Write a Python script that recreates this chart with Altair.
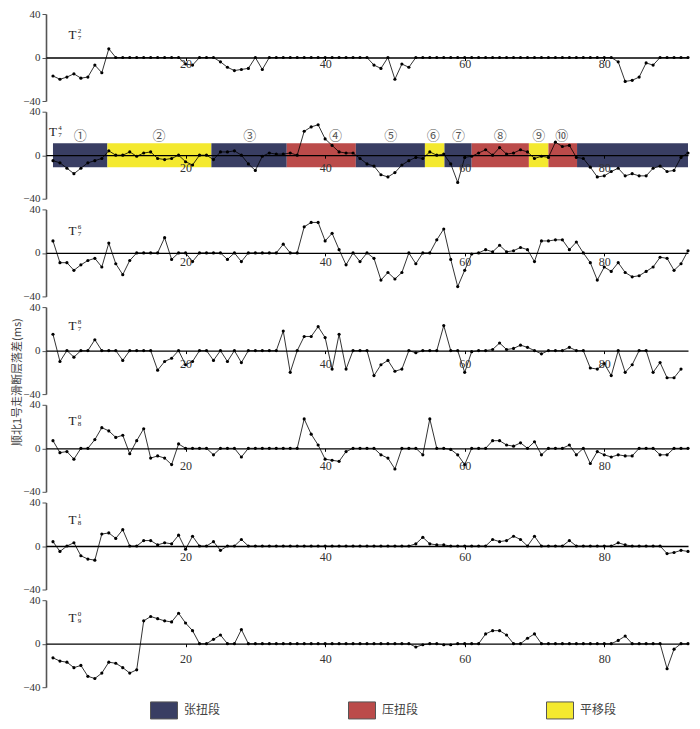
import altair as alt
import pandas as pd

# ---------------- data ----------------
p1 = [-17, -20, -18, -15, -19, -18, -7, -14, 8, 0,
      0, 0, 0, 0, 0, 0, 0, 0, 0, -6,
      -7, 0, 0, 0, -4, -9, -12, -11, -10, 0,
      -11, 0, 0, 0, 0, 0, 0, 0, 0, 0,
      0, 0, 0, 0, 0, 0, -7, -10, 0, -20,
      -6, -9, 0, 0, 0, 0, 0, 0, 0, 0,
      0, 0, 0, 0, 0, 0, 0, 0, 0, 0,
      0, 0, 0, 0, 0, 0, 0, 0, 0, 0,
      0, -4, -22, -21, -18, -5, -7, 0, 0, 0,
      0, 0]
p2 = [-5, -7, -12, -17, -12, -7, -5, -3, 4, 0,
      0, 3, -1, 2, 3, -3, -4, -3, 0, -6,
      -9, 0, 0, -4, 3, 3, 4, 0, -8, -14,
      -1, 2, 1, 1, 2, 0, 22, 26, 28, 15,
      9, 3, 2, 2, -3, -8, -10, -18, -20, -16,
      -9, -5, -2, -3, 3, 0, 1, -8, -25, -2,
      -1, 2, 5, 0, 7, 1, 2, 5, 3, -3,
      -1, -2, 12, 8, 9, -2, -3, -11, -20, -19,
      -15, -12, -19, -17, -19, -19, -12, -10, -15, -14,
      -2, 2]
p3 = [11, -9, -9, -16, -11, -7, -5, -13, 9, -10,
      -20, -7, 0, 0, 0, 0, 14, -6, 0, 0,
      -8, 0, 0, 0, 0, -6, 0, -8, 0, 0,
      0, 0, 0, 8, 0, 0, 24, 28, 28, 11,
      18, 3, -11, 0, -8, 0, -5, -25, -18, -24,
      -18, 0, -10, 0, 0, 12, 22, -6, -31, -16,
      -1, 0, 3, 1, 7, 1, 2, 5, 3, -8,
      11, 11, 12, 12, 3, 10, 0, -9, -25, -13,
      -17, -9, -18, -22, -21, -17, -13, -4, -5, -16,
      -10, 2]
p4 = [15, -10, 0, -6, 0, 0, 10, 0, 0, 0,
      -9, 0, 0, 0, 0, -18, -10, -7, 0, -13,
      -10, 0, 0, -9, 0, -10, 0, -11, 0, 0,
      0, 0, 0, 18, -20, 0, 13, 13, 22, 12,
      -17, 15, -17, 0, 0, 0, -23, -13, -9, -19,
      -17, 0, -2, 0, 0, 0, 23, 0, 0, -20,
      -1, 0, 0, 1, 7, 1, 2, 5, 3, 0,
      -3, 0, 0, 0, 3, 0, 0, -16, -17, -12,
      -23, 0, -20, -13, 0, 0, -20, -11, -25, -25,
      -17]
p5 = [7, -4, -3, -10, 0, 0, 8, 19, 16, 10,
      12, -5, 7, 18, -9, -7, -9, -15, 4, 0,
      0, 0, 0, -6, 0, 0, 0, -8, 0, 0,
      0, 0, 0, 0, 0, 0, 27, 13, 3, -10,
      -11, -12, -3, 0, 0, 0, 0, -6, -9, -19,
      0, 0, 0, -6, 27, 0, 0, -1, -6, -15,
      0, 0, 0, 7, 7, 3, 2, 5, 0, 6,
      -6, 0, 0, 0, 3, -6, 0, -14, -3, -6,
      -8, -6, -7, -7, 0, 0, 0, -6, -6, 0,
      0, 0]
p6 = [4, -5, 0, 3, -9, -12, -13, 11, 12, 7,
      15, 0, 0, 5, 5, 1, 3, 2, 10, -3,
      9, 0, 0, 4, -4, 0, 0, 6, 0, 0,
      0, 0, 0, 0, 0, 0, 0, 0, 0, 0,
      0, 0, 0, 0, 0, 0, 0, 0, 0, 0,
      0, 0, 2, 8, 2, 1, 1, 0, 0, 0,
      0, 0, 0, 6, 4, 5, 9, 6, 0, 9,
      0, 0, 0, 0, 5, 0, 0, 0, 0, 0,
      0, 3, 1, 0, 0, 0, 0, 0, -7, -6,
      -4, -5]
p7 = [-13, -16, -17, -22, -20, -30, -32, -27, -17, -18,
      -22, -27, -24, 21, 25, 23, 21, 20, 28, 19,
      12, 0, 0, 4, 8, 0, 0, 13, 0, 0,
      0, 0, 0, 0, 0, 0, 0, 0, 0, 0,
      0, 0, 0, 0, 0, 0, 0, 0, 0, 0,
      0, 0, -3, -1, 0, 0, -1, -1, 0, 0,
      0, 0, 9, 12, 12, 8, 0, 0, 5, 9,
      0, 0, 0, 0, 0, 0, 0, 0, 0, 0,
      0, 3, 7, 0, 0, 0, 0, 0, -23, -5,
      0, 0]
panels = [p1, p2, p3, p4, p5, p6, p7]

sup_txt = ["2", "4", "6", "8", "0", "1", "0"]
sub_txt = ["7", "7", "7", "7", "8", "8", "9"]
t_x = [3.8, 1.0, 3.8, 3.8, 3.8, 3.8, 3.8]
t_y = [21, 21, 20, 23, 25, 24, 24]

seg_edges = [1, 8.8, 23.7, 34.5, 44.4, 54.3, 57.1, 61.0, 69.2, 72.0, 76.1, 92]
seg_type = ["张扭段", "平移段", "张扭段", "压扭段", "张扭段", "平移段",
            "张扭段", "压扭段", "平移段", "压扭段", "张扭段"]
seg_label = ["①", "②", "③", "④", "⑤", "⑥", "⑦", "⑧", "⑨", "⑩"]
seg_label_x = [4.9, 16.2, 29.2, 41.5, 49.4, 55.5, 59.1, 65.1, 70.6, 73.9]

types = ["张扭段", "压扭段", "平移段"]
type_colors = ["#393e63", "#bb4b4a", "#f4e92f"]

y_title = "顺北1号走滑断层落差(ms)"
x_ticks = [20, 40, 60, 80]
y_ticks = [-40, -20, 0, 20, 40]

# ---------------- layout / style ----------------
W = 642
H = 87
GAP = 10.7
SERIF = "Liberation Serif"
CJK = "Noto Sans CJK SC"
label_pad = [-2, 4, 1, 5, 9, 2, 7]


def x_axis(i):
    return alt.Axis(values=x_ticks, orient="bottom", offset=-H / 2, zindex=1,
                    domainColor="black", domainWidth=1.3, tickColor="black",
                    tickSize=3, labelPadding=label_pad[i], labelFont=SERIF,
                    labelFontSize=12, labelColor="#333", grid=False, title=None,
                    format="d")


y_axis = alt.Axis(values=y_ticks, grid=False, title=None, domainColor="#555",
                  domainWidth=1.6, tickColor="#555", tickSize=4, labelPadding=2,
                  labelFont=SERIF, labelFontSize=11, labelColor="#333")

xscale = alt.Scale(domain=[0, 92], nice=False, zero=False)
yscale = alt.Scale(domain=[-40, 40], nice=False)


def panel(i):
    vals = panels[i]
    df = pd.DataFrame({"x": list(range(1, len(vals) + 1)), "v": vals})
    layers = []
    if i == 1:
        seg = pd.DataFrame({"s": seg_edges[:-1], "e": seg_edges[1:], "type": seg_type})
        rect = alt.Chart(seg).mark_rect(opacity=1).encode(
            x=alt.X("s:Q", scale=xscale, axis=x_axis(i), title=None),
            x2="e:Q",
            y=alt.datum(-11, scale=yscale, axis=y_axis),
            y2=alt.datum(11),
            color=alt.Color("type:N",
                            scale=alt.Scale(domain=types, range=type_colors),
                            legend=alt.Legend(
                                orient="none", legendX=104,
                                legendY=7 * H + 6 * GAP + 9,
                                direction="horizontal", columns=3,
                                columnPadding=125, title=None, padding=0,
                                symbolType="M-1,-0.63H1V0.63H-1Z",
                                symbolSize=729, symbolStrokeColor="#555",
                                symbolStrokeWidth=1, symbolOpacity=1,
                                labelFont=CJK, labelFontSize=12,
                                labelColor="#444", labelOffset=6)),
        )
        layers.append(rect)
        lab = pd.DataFrame({"lx": seg_label_x, "t": seg_label})
        layers.append(alt.Chart(lab).mark_text(font=CJK, fontSize=13, color="#555").encode(
            x=alt.X("lx:Q", title=None), y=alt.datum(18), text="t:N"))
    line = alt.Chart(df).mark_line(color="black", strokeWidth=0.8).encode(
        x=alt.X("x:Q", scale=xscale, axis=x_axis(i), title=None),
        y=alt.Y("v:Q", scale=yscale, axis=y_axis, title=None))
    pts = alt.Chart(df).mark_circle(color="black", size=10, opacity=1).encode(
        x=alt.X("x:Q", title=None), y=alt.Y("v:Q", title=None))
    layers += [line, pts]
    tdf = pd.DataFrame({"tx": [t_x[i]], "ty": [t_y[i]], "T": ["T"],
                        "sp": [sup_txt[i]], "sb": [sub_txt[i]]})
    tbase = alt.Chart(tdf)
    layers.append(tbase.mark_text(font=SERIF, fontSize=13, color="#222").encode(
        x=alt.X("tx:Q", title=None), y=alt.Y("ty:Q", title=None), text="T:N"))
    layers.append(tbase.mark_text(font=SERIF, fontSize=7, color="#222", dx=7, dy=-4).encode(
        x=alt.X("tx:Q", title=None), y=alt.Y("ty:Q", title=None), text="sp:N"))
    layers.append(tbase.mark_text(font=SERIF, fontSize=7, color="#222", dx=7, dy=3).encode(
        x=alt.X("tx:Q", title=None), y=alt.Y("ty:Q", title=None), text="sb:N"))
    if i == 3:
        ttl = pd.DataFrame({"t": [y_title]})
        layers.append(alt.Chart(ttl).mark_text(font=CJK, fontSize=11, color="#444",
                                               angle=270).encode(
            text="t:N", x=alt.value(-28), y=alt.value(75)))
    return alt.layer(*layers).properties(width=W, height=H)


chart = (
    alt.vconcat(*[panel(i) for i in range(7)], spacing=GAP, bounds="flush")
    .resolve_scale(color="shared")
    .properties(padding={"left": 4, "top": 0, "right": 0, "bottom": 0})
    .configure(background="white")
    .configure_view(strokeWidth=0)
)

chart.save("out.html", embed_options={"renderer": "svg", "actions": False})
